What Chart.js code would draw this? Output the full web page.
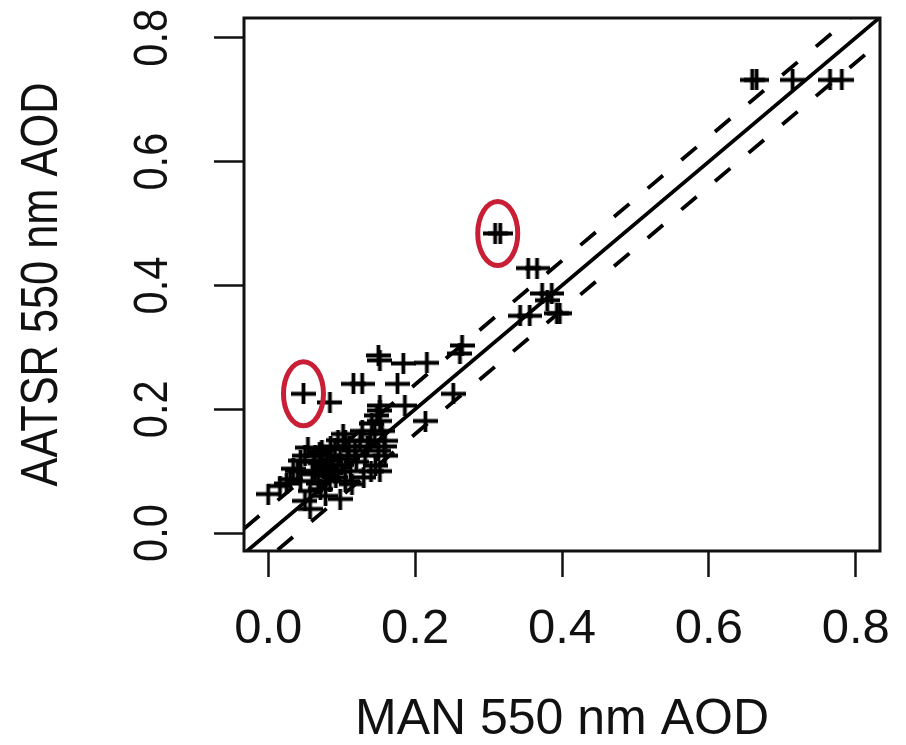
<!DOCTYPE html>
<html>
<head>
<meta charset="utf-8">
<script src="https://cdn.jsdelivr.net/npm/chart.js@4.4.1/dist/chart.umd.min.js"></script>
<style>
  html, body { margin: 0; padding: 0; background: #fff; }
  canvas { display: block; }
</style>
</head>
<body>
<canvas id="c" width="906" height="745"></canvas>
<script>
// ---- data ----
const manAOD = [
  0.659, 0.665, 0.714, 0.765, 0.781,
  0.309, 0.316,
  0.354, 0.366, 0.373, 0.386, 0.380, 0.343, 0.356, 0.393, 0.397,
  0.264, 0.261, 0.252, 0.214, 0.186, 0.176, 0.216, 0.184, 0.150, 0.152,
  0.116, 0.128, 0.084, 0.048, 0.152,
  0.000, 0.016, 0.030, 0.034, 0.050, 0.054, 0.064, 0.071, 0.078, 0.084,
  0.091, 0.098, 0.105, 0.112, 0.118, 0.125, 0.128, 0.141, 0.146, 0.152,
  0.152, 0.155, 0.159, 0.150, 0.159, 0.152, 0.105, 0.114, 0.098, 0.057,
  0.050, 0.044, 0.057, 0.071, 0.084, 0.073, 0.044, 0.064, 0.082, 0.095,
  0.132, 0.139,
  0.060, 0.068, 0.075, 0.080, 0.088, 0.092, 0.100, 0.108, 0.062, 0.085,
  0.095, 0.070, 0.110, 0.120, 0.135, 0.145, 0.148, 0.158, 0.140, 0.130,
  0.078, 0.040, 0.025, 0.102
];
const aatsrAOD = [
  0.732, 0.732, 0.732, 0.732, 0.732,
  0.484, 0.484,
  0.428, 0.428, 0.387, 0.387, 0.376, 0.351, 0.351, 0.355, 0.355,
  0.303, 0.290, 0.225, 0.181, 0.206, 0.241, 0.275, 0.274, 0.287, 0.279,
  0.241, 0.241, 0.211, 0.225, 0.206,
  0.063, 0.076, 0.087, 0.104, 0.125, 0.138, 0.100, 0.113, 0.092, 0.117,
  0.136, 0.125, 0.149, 0.100, 0.133, 0.149, 0.165, 0.177, 0.109, 0.181,
  0.198, 0.165, 0.149, 0.133, 0.125, 0.100, 0.084, 0.079, 0.055, 0.039,
  0.052, 0.084, 0.068, 0.071, 0.084, 0.133, 0.117, 0.125, 0.100, 0.100,
  0.125, 0.149,
  0.095, 0.080, 0.105, 0.125, 0.110, 0.090, 0.110, 0.120, 0.115, 0.140,
  0.150, 0.130, 0.140, 0.115, 0.140, 0.160, 0.190, 0.140, 0.100, 0.090,
  0.060, 0.100, 0.080, 0.160
];
const circledGroups = [[29], [5, 6]];          // highlighted points (red ellipses)
const lineOffsets = [0, 0.04, -0.04];           // 1:1 line and dashed envelope
const tickValues = [0.0, 0.2, 0.4, 0.6, 0.8];
const xTitle = 'MAN 550 nm AOD';
const yTitle = 'AATSR 550 nm AOD';
const X_MIN = -0.033, X_MAX = 0.833;
const Y_MIN = -0.029, Y_MAX = 0.832;

// ---- marker: "+" slightly wider than tall, like the reference ----
function plusMarker(w, h, lw) {
  const c = document.createElement('canvas');
  c.width = w; c.height = h;
  const g = c.getContext('2d');
  g.strokeStyle = '#000';
  g.lineWidth = lw;
  g.beginPath();
  g.moveTo(0, h / 2); g.lineTo(w, h / 2);
  g.moveTo(w / 2, 0); g.lineTo(w / 2, h);
  g.stroke();
  return c;
}
const marker = plusMarker(25, 21, 3.8);

// ---- build datasets ----
const points = manAOD.map((x, i) => ({ x: x, y: aatsrAOD[i] }));
const lineSets = lineOffsets.map(off => ({
  type: 'line',
  data: [{ x: X_MIN, y: X_MIN + off }, { x: X_MAX, y: X_MAX + off }],
  borderColor: '#000',
  borderWidth: 3.8,
  borderDash: off === 0 ? [] : [20, 24],
  pointRadius: 0,
  fill: false,
  order: 2
}));

const K = 0.85; // text compression along the vertical direction

const frame = {
  id: 'frame',
  afterDraw(chart) {
    const { ctx, chartArea: a } = chart;
    ctx.save();
    ctx.strokeStyle = '#111';
    ctx.lineWidth = 3;
    ctx.strokeRect(a.left, a.top, a.right - a.left, a.bottom - a.top);
    ctx.restore();
  }
};
const ellipses = {
  id: 'ellipses',
  afterDatasetsDraw(chart) {
    const { ctx, scales } = chart;
    ctx.save();
    ctx.strokeStyle = '#c81e36';
    ctx.lineWidth = 5;
    circledGroups.forEach(g => {
      const cx = g.reduce((s, i) => s + scales.x.getPixelForValue(manAOD[i]), 0) / g.length;
      const cy = g.reduce((s, i) => s + scales.y.getPixelForValue(aatsrAOD[i]), 0) / g.length;
      ctx.beginPath();
      ctx.ellipse(cx, cy, 20, 32, 0, 0, Math.PI * 2);
      ctx.stroke();
    });
    ctx.restore();
  }
};
// render y-axis texts compressed along their reading direction
const yTextStretch = {
  id: 'yTextStretch',
  beforeDraw(chart) {
    const s = chart.scales.y;
    if (s._patched) return;
    s._patched = true;
    const ctx = chart.ctx;
    s.drawLabels = function () {
      const items = this.getLabelItems();
      items.forEach(it => {
        const o = it.options;
        ctx.save();
        ctx.translate(o.translation[0], o.translation[1]);
        ctx.rotate(o.rotation);
        ctx.scale(K, 1);
        ctx.font = it.font.string;
        ctx.fillStyle = o.color;
        ctx.textAlign = o.textAlign;
        ctx.textBaseline = o.textBaseline;
        ctx.fillText(it.label, 0, it.textOffset);
        ctx.restore();
      });
    };
    const origTitle = s.drawTitle.bind(s);
    s.drawTitle = function () {
      const cy = (this.top + this.bottom) / 2;
      ctx.save();
      ctx.translate(0, cy);
      ctx.scale(1, K);
      ctx.translate(0, -cy);
      origTitle();
      ctx.restore();
    };
  }
};

const fixTicks = scale => { scale.ticks = tickValues.map(v => ({ value: v })); };

new Chart(document.getElementById('c'), {
  type: 'scatter',
  data: {
    datasets: [
      {
        data: points,
        pointStyle: marker,
        pointRadius: 11,
        borderColor: '#000',
        backgroundColor: '#000',
        order: 1
      },
      ...lineSets
    ]
  },
  options: {
    responsive: false,
    animation: false,
    devicePixelRatio: 1,
    events: [],
    layout: { padding: { top: 18, right: 26, left: 0, bottom: 0 } },
    plugins: { legend: { display: false }, tooltip: { enabled: false } },
    scales: {
      x: {
        type: 'linear',
        min: X_MIN, max: X_MAX,
        afterBuildTicks: fixTicks,
        afterFit: s => { s.height = 194; s.paddingLeft = 0; s.paddingRight = 0; },
        border: { display: false },
        grid: { drawOnChartArea: false, drawTicks: true, tickLength: 26, tickWidth: 2.5, tickColor: '#111' },
        ticks: {
          color: '#111', padding: 28,
          font: { family: '"Liberation Sans", Arial, sans-serif', size: 49, lineHeight: 1 },
          maxRotation: 0, minRotation: 0,
          callback: v => v.toFixed(1)
        },
        title: {
          display: true, text: xTitle, color: '#111',
          font: { family: '"Liberation Sans", Arial, sans-serif', size: 50, lineHeight: 1 },
          padding: { top: 0, bottom: 0 }
        }
      },
      y: {
        type: 'linear',
        min: Y_MIN, max: Y_MAX,
        afterBuildTicks: fixTicks,
        afterFit: s => { s.width = 244; s.paddingTop = 0; s.paddingBottom = 0; },
        border: { display: false },
        grid: { drawOnChartArea: false, drawTicks: true, tickLength: 30, tickWidth: 2.5, tickColor: '#111' },
        ticks: {
          color: '#111', padding: 26, crossAlign: 'center',
          minRotation: 90, maxRotation: 90,
          font: { family: '"Liberation Sans", Arial, sans-serif', size: 49, lineHeight: 1 },
          callback: v => v.toFixed(1)
        },
        title: {
          display: true, text: yTitle, color: '#111',
          font: { family: '"Liberation Sans", Arial, sans-serif', size: 51, lineHeight: 1 },
          padding: { top: 17, bottom: 0 }
        }
      }
    }
  },
  plugins: [frame, ellipses, yTextStretch]
});
</script>
</body>
</html>
